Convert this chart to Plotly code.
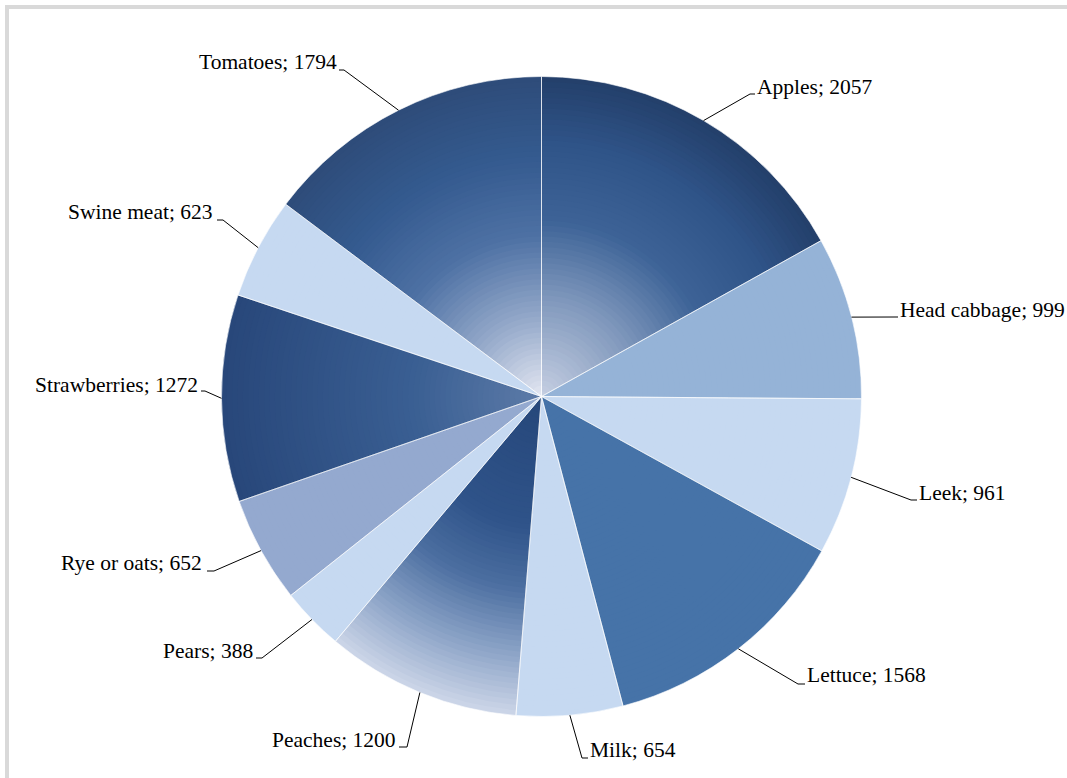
import math
import plotly.graph_objects as go

# Food products and their amounts (clockwise from 12 o'clock)
labels = ["Apples", "Head cabbage", "Leek", "Lettuce", "Milk", "Peaches",
          "Pears", "Rye or oats", "Strawberries", "Swine meat", "Tomatoes"]
values = [2057, 999, 961, 1568, 654, 1200, 388, 652, 1272, 623, 1794]

W, H = 1067, 778
CX, CY, R = 541.5, 396.5, 320.0

# Flat fills
solid_fill = {
    "Head cabbage": "#95b3d7",
    "Leek": "#c6d9f1",
    "Lettuce": "#4673a8",
    "Milk": "#c6d9f1",
    "Pears": "#c6d9f1",
    "Rye or oats": "#94a9cf",
    "Swine meat": "#c6d9f1",
}
# Shaded fills: colour stops along the radius (0 = centre, 1 = rim)
shaded_fill = {
    "Apples": [(0.0, "#c6cfe2"), (0.3, "#8199bd"), (0.55, "#3d6397"),
               (0.8, "#2f5387"), (1.0, "#233f6a")],
    "Tomatoes": [(0.0, "#e4e7f2"), (0.25, "#93a8c9"), (0.5, "#4e71a4"),
                 (0.75, "#345a8f"), (1.0, "#2e4c79")],
    "Peaches": [(0.0, "#26477a"), (0.4, "#2f5389"), (0.6, "#4b6ea0"),
                (0.8, "#8aa2c6"), (1.0, "#cdd6e8")],
    "Strawberries": [(0.0, "#5d7ba8"), (0.4, "#3a5f93"), (1.0, "#28477a")],
}

# Label text placement, elbow of the leader line and the end of its short tail (px)
label_text = [(756, 87, "left"), (899, 310, "left"), (918, 493, "left"),
              (806, 675, "left"), (589, 750, "left"), (397, 740, "right"),
              (254, 651, "right"), (203, 563, "right"), (199, 385, "right"),
              (214, 212, "right"), (338, 62, "right")]
label_elbow = [(750, 94), (896, 317), (911, 500), (798, 684), (582, 758),
               (407, 747), (262, 658), (214, 571), (205, 391), (223, 220),
               (344, 70)]
label_tail = [755, 898, 917, 805, 588, 399, 256, 207, 201, 217, 339]


def hex_rgb(h):
    h = h.lstrip("#")
    return tuple(int(h[i:i + 2], 16) for i in (0, 2, 4))


def stop_colour(stops, t):
    t = min(max(t, 0.0), 1.0)
    for (t0, c0), (t1, c1) in zip(stops, stops[1:]):
        if t <= t1:
            f = 0.0 if t1 == t0 else (t - t0) / (t1 - t0)
            a, b = hex_rgb(c0), hex_rgb(c1)
            return "rgb(%d,%d,%d)" % tuple(round(a[i] + (b[i] - a[i]) * f) for i in range(3))
    return stops[-1][1]


def px(x, y):
    return x / W, 1 - y / H


fig = go.Figure()

# Pie drawn as stacked discs of shrinking radius so the shaded slices blend
N = 60
for k in range(N):
    frac = 1 - k / N
    t = frac - 0.5 / N
    colours = [stop_colour(shaded_fill[l], t) if l in shaded_fill
               else solid_fill[l] for l in labels]
    x0, y1 = px(CX - R * frac, CY - R * frac)
    x1, y0 = px(CX + R * frac, CY + R * frac)
    fig.add_trace(go.Pie(
        labels=labels, values=values, sort=False, direction="clockwise",
        rotation=0, textinfo="none", hoverinfo="skip", showlegend=False,
        marker=dict(colors=colours, line=dict(width=0)),
        domain=dict(x=[x0, x1], y=[y0, y1]),
    ))

# Thin light separators between slices
fx0, fy1 = px(CX - R, CY - R)
fx1, fy0 = px(CX + R, CY + R)
fig.add_trace(go.Pie(
    labels=labels, values=values, sort=False, direction="clockwise",
    rotation=0, textinfo="none", hoverinfo="skip", showlegend=False,
    marker=dict(colors=["rgba(0,0,0,0)"] * len(labels),
                line=dict(color="rgba(255,255,255,0.75)", width=0.8)),
    domain=dict(x=[fx0, fx1], y=[fy0, fy1]),
))

shapes = []
annotations = []
total = sum(values)
cum = 0
for i, (lab, val) in enumerate(zip(labels, values)):
    mid = (cum + val / 2) / total * 2 * math.pi
    cum += val
    ex, ey = CX + R * math.sin(mid), CY - R * math.cos(mid)
    bx, by = label_elbow[i]
    tx = label_tail[i]
    for (ax, ay), (cx_, cy_) in (((ex, ey), (bx, by)), ((bx, by), (tx, by))):
        p0, p1 = px(ax, ay), px(cx_, cy_)
        shapes.append(dict(type="line", xref="paper", yref="paper",
                           x0=p0[0], y0=p0[1], x1=p1[0], y1=p1[1],
                           line=dict(color="#000000", width=1)))
    lx, ly, side = label_text[i]
    qx, qy = px(lx, ly)
    annotations.append(dict(
        text=f"{lab}; {val}", x=qx, y=qy, xref="paper", yref="paper",
        xanchor="left" if side == "left" else "right", yanchor="middle",
        showarrow=False, borderpad=0,
        font=dict(family="Liberation Serif", size=21.5, color="#000000"),
    ))

# Chart area frame
f0, f1 = px(7, 7)
g0, g1 = px(W + 20, H + 20)
shapes.append(dict(type="rect", xref="paper", yref="paper",
                   x0=f0, y0=g1, x1=g0, y1=f1,
                   line=dict(color="#d9d9d9", width=4), layer="below"))

fig.update_layout(
    width=W, height=H,
    margin=dict(l=0, r=0, t=0, b=0),
    paper_bgcolor="#ffffff", plot_bgcolor="#ffffff",
    shapes=shapes, annotations=annotations,
)

fig.write_html("out.html")
